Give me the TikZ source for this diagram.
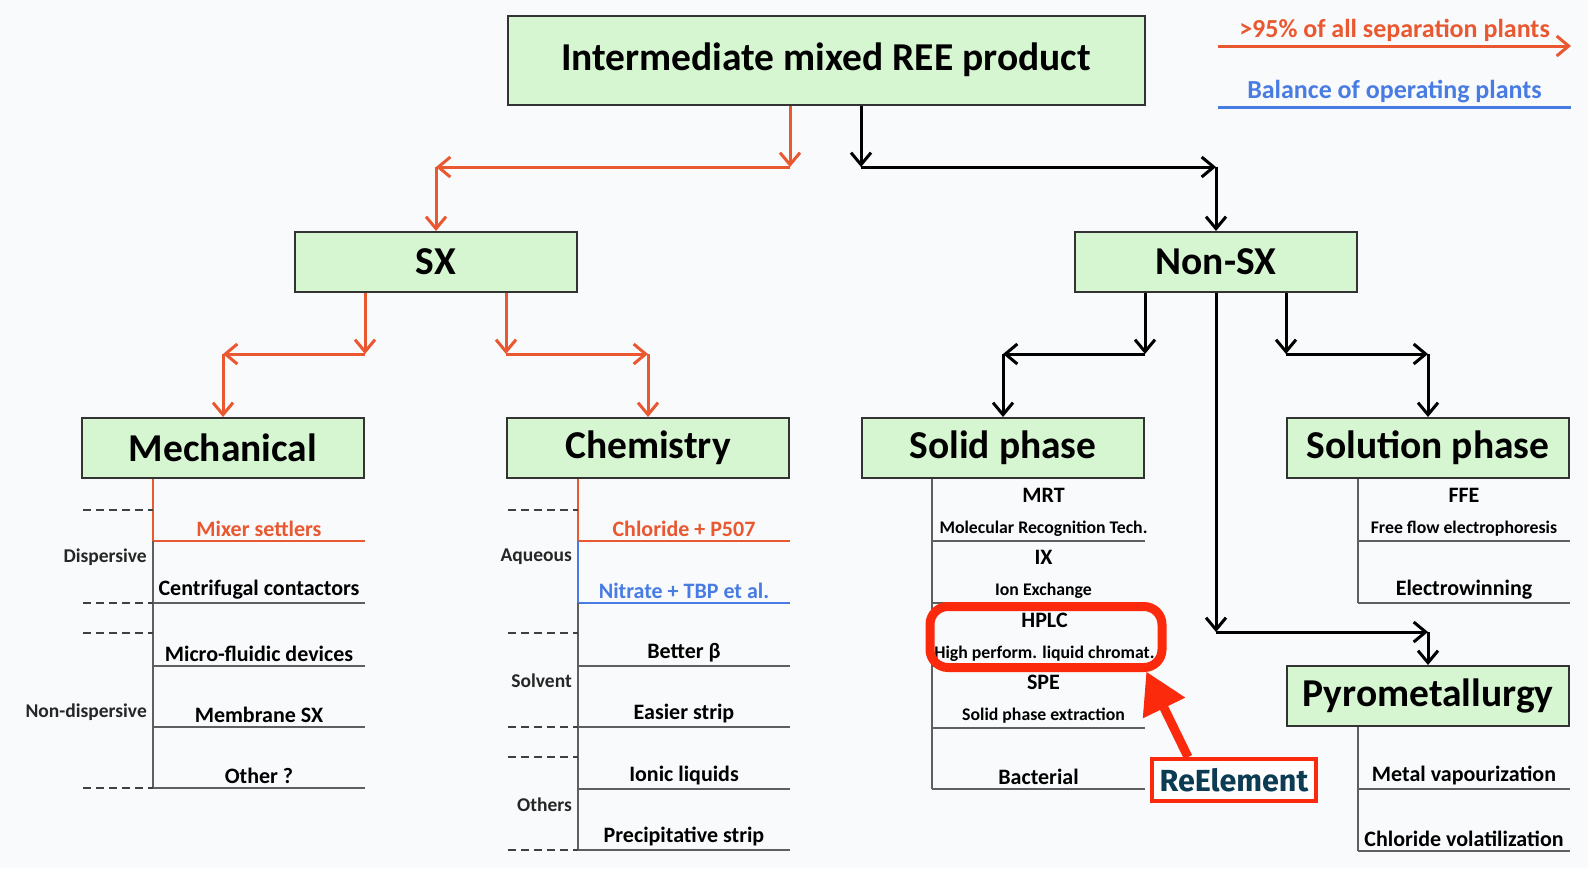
\documentclass[tikz,border=0pt]{standalone}
\usepackage{fontspec}
\setmainfont{Carlito}
\newfontfamily\brandfont{Fira Sans}
\usetikzlibrary{arrows.meta, positioning}
\definecolor{cRed}{RGB}{233,88,48}
\definecolor{cBlue}{RGB}{72,124,226}
\definecolor{cBox}{RGB}{214,245,209}
\definecolor{cMark}{RGB}{252,42,12}
\definecolor{cTeal}{RGB}{12,60,84}
\definecolor{cRule}{RGB}{95,95,95}
\definecolor{cBack}{RGB}{248,250,251}
\newcommand\subtxt{\fontsize{17.75}{31}\selectfont}
\tikzset{
	topbox/.style ={rectangle, draw=black!80, line width=2pt, fill=cBox, minimum width=637pt, minimum height=89pt, font=\fontsize{39.5}{44}\selectfont\bfseries},
	catbox/.style ={rectangle, draw=black!80, line width=2pt, fill=cBox, minimum width=282pt, minimum height=60pt, font=\fontsize{39.5}{44}\selectfont\bfseries},
	redarr/.style ={-{Straight Barb[length=12pt, width=20pt]}, line width=3pt, cRed},
	blkarr/.style ={-{Straight Barb[length=12pt, width=20pt]}, line width=3pt, black},
	% list styles
	rule/.style   ={line width=1.5pt, draw=cRule},
	hotrule/.style={line width=2.5pt},
	dashrule/.style={line width=1.5pt, draw=black!75, dash pattern=on 8pt off 5pt},
	item/.style   ={font=\fontsize{22}{31}\selectfont\bfseries, inner sep=3.5pt, align=center},
	lbl/.style    ={font=\fontsize{19.5}{22}\selectfont\bfseries, inner sep=1pt, text=black!85},
	legtxt/.style ={font=\fontsize{26}{30}\selectfont\bfseries, inner sep=3pt},
	% callout
	hilite/.style ={draw=cMark, line width=9pt, rounded corners=18pt, minimum width=232pt, minimum height=61pt},
	brand/.style  ={draw=cMark, line width=4pt, fill=white, text=cTeal, minimum width=164pt, minimum height=42pt, font=\brandfont\fontsize{30.5}{34}\selectfont\bfseries},
	callarr/.style={-{Triangle[length=40pt, width=47pt, line width=1pt]}, line width=9pt, draw=cMark, fill=cMark},
}
\begin{document}
\begin{tikzpicture}[x=1pt, y=-1pt]
	\useasboundingbox (0,0) rectangle (1588,868);
	\fill[cBack] (0,0) rectangle (1588,868);
	% boxes
	\node[topbox] (top) at (826,60) {Intermediate mixed REE product};
	\node[catbox] (sx) at (436,262) {SX};
	\node[catbox] (nonsx) at (1216,262) {Non-SX};
	\node[catbox] (mech) at (223,448) {Mechanical};
	\node[catbox, right=141pt of mech] (chem) {Chemistry};
	\node[catbox, right=71pt of chem] (solid) {Solid phase};
	\node[catbox, right=141pt of solid] (soln) {Solution phase};
	\node[catbox, below=186pt of soln] (pyro) {Pyrometallurgy};
	% tree connectors
	\coordinate (r1) at (chem.east |- 0,167);
	\coordinate (k1) at (solid.west |- 0,167);
	\coordinate (r2) at (mech.east |- 0,354);
	\coordinate (r3) at (chem.west |- 0,354);
	\coordinate (k2) at (solid.east |- 0,354);
	\coordinate (k3) at (soln.west |- 0,354);
	\coordinate (k4) at (nonsx |- 0,632);
	\draw[redarr] (top.south -| r1) -- (r1);
	\draw[redarr] (r1) -- (r1 -| sx);
	\draw[redarr] (r1 -| sx) -- (sx);
	\draw[blkarr] (top.south -| k1) -- (k1);
	\draw[blkarr] (k1) -- (k1 -| nonsx);
	\draw[blkarr] (k1 -| nonsx) -- (nonsx);
	\draw[redarr] (sx.south -| r2) -- (r2);
	\draw[redarr] (r2) -- (r2 -| mech);
	\draw[redarr] (r2 -| mech) -- (mech);
	\draw[redarr] (sx.south -| r3) -- (r3);
	\draw[redarr] (r3) -- (r3 -| chem);
	\draw[redarr] (r3 -| chem) -- (chem);
	\draw[blkarr] (nonsx.south -| k2) -- (k2);
	\draw[blkarr] (k2) -- (k2 -| solid);
	\draw[blkarr] (k2 -| solid) -- (solid);
	\draw[blkarr] (nonsx.south -| k3) -- (k3);
	\draw[blkarr] (k3) -- (k3 -| soln);
	\draw[blkarr] (k3 -| soln) -- (soln);
	\draw[blkarr] (nonsx) -- (k4);
	\draw[blkarr] (k4) -- (k4 -| pyro);
	\draw[blkarr] (k4 -| pyro) -- (pyro);
	% mechanical list
	\coordinate (ms) at ([xshift=72pt]mech.south west);
	\coordinate (md) at ([xshift=-70pt]ms);
	\draw[rule, hotrule, cRed] (ms) |- node[item, pos=0.75, above] (mix) {Mixer settlers} (mech.east |- 0,541);
	\draw[rule] (ms |- 0,541) -- (ms |- 0,788);
	\draw[rule] (ms |- 0,603) -- node[item, above] (cent) {Centrifugal contactors} (mech.east |- 0,603);
	\draw[rule] (ms |- 0,666) -- node[item, above] (micro) {Micro-fluidic devices} (mech.east |- 0,666);
	\draw[rule] (ms |- 0,727) -- node[item, above] (memb) {Membrane SX} (mech.east |- 0,727);
	\draw[rule] (ms |- 0,788) -- node[item, above] (other) {Other ?} (mech.east |- 0,788);
	\draw[dashrule] (md |- 0,510) -- (ms |- 0,510);
	\draw[dashrule] (md |- 0,603) -- (ms |- 0,603);
	\draw[dashrule] (md |- 0,633) -- (ms |- 0,633);
	\draw[dashrule] (md |- 0,788) -- (ms |- 0,788);
	\node[lbl, left=5pt] (disp) at (ms |- 0,557) {Dispersive};
	\node[lbl, left=5pt] (ndisp) at (ms |- 0,712) {Non-dispersive};
	% chemistry list
	\coordinate (cs) at ([xshift=72pt]chem.south west);
	\coordinate (cd) at ([xshift=-70pt]cs);
	\draw[rule, hotrule, cRed] (cs) |- node[item, pos=0.75, above] (chl) {Chloride + P507} (chem.east |- 0,541);
	\draw[rule, hotrule, cBlue] (cs |- 0,541) |- node[item, pos=0.75, above] (nit) {Nitrate + TBP et al.} (chem.east |- 0,603);
	\draw[rule] (cs |- 0,603) -- (cs |- 0,850);
	\draw[rule] (cs |- 0,666) -- node[item, above] (beta) {Better β} (chem.east |- 0,666);
	\draw[rule] (cs |- 0,727) -- node[item, above] (easy) {Easier strip} (chem.east |- 0,727);
	\draw[rule] (cs |- 0,789) -- node[item, above] (ionic) {Ionic liquids} (chem.east |- 0,789);
	\draw[rule] (cs |- 0,850) -- node[item, above] (precip) {Precipitative strip} (chem.east |- 0,850);
	\draw[dashrule] (cd |- 0,510) -- (cs |- 0,510);
	\draw[dashrule] (cd |- 0,633) -- (cs |- 0,633);
	\draw[dashrule] (cd |- 0,727) -- (cs |- 0,727);
	\draw[dashrule] (cd |- 0,757) -- (cs |- 0,757);
	\draw[dashrule] (cd |- 0,850) -- (cs |- 0,850);
	\node[lbl, left=5pt] (aq) at (cs |- 0,557) {Aqueous};
	\node[lbl, left=5pt] (solv) at (cs |- 0,681) {Solvent};
	\node[lbl, left=5pt] (oth) at (cs |- 0,805) {Others};
	% solid phase list
	\coordinate (ss) at ([xshift=71pt]solid.south west);
	\draw[rule] (ss) -- (ss |- 0,789);
	\draw[rule] (ss |- 0,541) -- node[item, above, xshift=5pt] (mrt) {MRT\\\subtxt Molecular Recognition Tech.} (solid.east |- 0,541);
	\draw[rule] (ss |- 0,603) -- node[item, above, xshift=5pt] (ix) {IX\\\subtxt Ion Exchange} (solid.east |- 0,603);
	\draw[rule] (ss |- 0,666) -- node[item, above, xshift=6pt] (hplc) {HPLC\\\subtxt High perform. liquid chromat.} (solid.east |- 0,666);
	\draw[rule] (ss |- 0,728) -- node[item, above, xshift=5pt] (spe) {SPE\\\subtxt Solid phase extraction} (solid.east |- 0,728);
	\draw[rule] (ss |- 0,789) -- node[item, above] (bact) {Bacterial} (solid.east |- 0,789);
	% solution phase list
	\coordinate (ls) at ([xshift=72pt]soln.south west);
	\draw[rule] (ls) -- (ls |- 0,603);
	\draw[rule] (ls |- 0,541) -- node[item, above] (ffe) {FFE\\\subtxt Free flow electrophoresis} (soln.east |- 0,541);
	\draw[rule] (ls |- 0,603) -- node[item, above] (ewin) {Electrowinning} (soln.east |- 0,603);
	% pyrometallurgy list
	\coordinate (ps) at ([xshift=72pt]pyro.south west);
	\draw[rule] (ps) -- (ps |- 0,851);
	\draw[rule] (ps |- 0,789) -- node[item, above] (vap) {Metal vapourization} (pyro.east |- 0,789);
	\draw[rule] (ps |- 0,851) -- node[item, above] (vol) {Chloride volatilization} (pyro.east |- 0,851);
	% legend
	\coordinate (lg1) at (1218,46);
	\coordinate (lg2) at (1571,46);
	\coordinate (lg3) at (1218,107);
	\coordinate (lg4) at (1571,107);
	\draw[redarr] (lg1) -- node[legtxt, above] (leg95) {>95\% of all separation plants} (lg2);
	\draw[line width=3pt, cBlue] (lg3) -- node[legtxt, above] (legbal) {Balance of operating plants} (lg4);
	% callout
	\node[hilite] (hl) at (1046,637) {};
	\node[brand] (reel) at (1234,780) {ReElement};
	\draw[callarr] ([xshift=38pt]reel.north west) -- ([xshift=-20pt]hl.south east);
\end{tikzpicture}
\end{document}
